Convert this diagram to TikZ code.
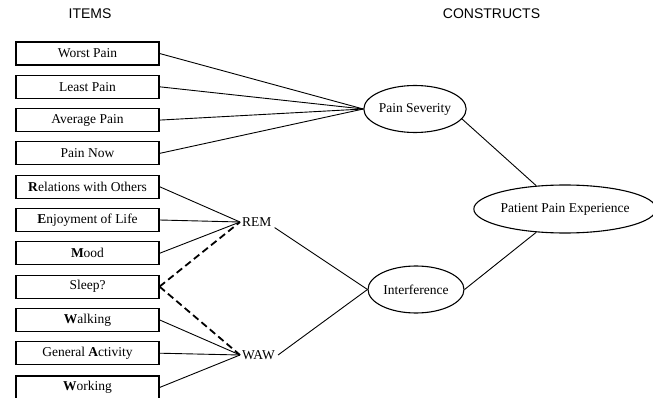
\documentclass[tikz,border=0pt]{standalone}
\usepackage{fontspec}
\setmainfont{Liberation Serif}
\newfontfamily\hdfont{Liberation Sans}
\usetikzlibrary{shapes.geometric}
\begin{document}
\begin{tikzpicture}[x=1pt,y=-1pt,
  itembox/.style={draw, line width=1.1pt, minimum width=143pt, minimum height=23pt, inner sep=0pt,
    font=\fontsize{13.5}{16}\selectfont},
  construct/.style={draw, ellipse, line width=1.1pt, inner sep=0pt,
    font=\fontsize{13.5}{16}\selectfont},
  sublabel/.style={inner sep=1pt, anchor=west, font=\fontsize{13.5}{16}\selectfont},
  heading/.style={font=\hdfont\fontsize{14}{16}\selectfont},
  link/.style={line width=0.9pt},
  dlink/.style={line width=1.8pt, dash pattern=on 7pt off 4pt}]
\useasboundingbox (0,0) rectangle (653,398);

\node[heading] (hitems) at (90,14) {ITEMS};
\node[heading] (hcons) at (491.5,14) {CONSTRUCTS};

\node[itembox] (worst) at (87.5,53.5) {Worst Pain};
\node[itembox] (least) at (87.5,86.8) {Least Pain};
\node[itembox] (avg) at (87.5,120.1) {Average Pain};
\node[itembox] (now) at (87.5,153.4) {Pain Now};
\node[itembox] (rel) at (87.5,186.7) {\textbf{R}elations with Others};
\node[itembox] (enj) at (87.5,220) {\textbf{E}njoyment of Life};
\node[itembox] (mood) at (87.5,253.3) {\textbf{M}ood};
\node[itembox] (sleep) at (87.5,286.6) {Sleep?};
\node[itembox] (walk) at (87.5,319.9) {\textbf{W}alking};
\node[itembox] (gen) at (87.5,353.2) {General \textbf{A}ctivity};
\node[itembox] (work) at (87.5,387.5) {\textbf{W}orking};

\node[construct, minimum width=96pt, minimum height=47pt] (ps) at (415,109) {Pain Severity};
\node[construct, minimum width=96pt, minimum height=47pt] (int) at (416,289.5) {Interference};
\node[construct, minimum width=166pt, minimum height=48pt] (ppe) at (565,209) {Patient Pain Experience};

\coordinate (rem) at (240,222);
\coordinate (waw) at (240,355);
\node[sublabel] (remtext) at (241,222) {REM};
\node[sublabel] (wawtext) at (241,355) {WAW};

\foreach \n in {worst,least,avg,now} \draw[link] (\n.east) -- (ps.west);
\foreach \n in {rel,enj,mood} \draw[link] (\n.east) -- (rem);
\foreach \n in {walk,gen,work} \draw[link] (\n.east) -- (waw);
\draw[dlink] (sleep.east) -- (rem);
\draw[dlink] (sleep.east) -- (waw);
\draw[link] ([xshift=2pt]remtext.south east) -- (int.west);
\draw[link] ([xshift=2pt]wawtext.east) -- (int.west);
\draw[link] (ps.-12.5) -- (ppe.141);
\draw[link] (int.east) -- (ppe.-141);
\end{tikzpicture}
\end{document}
